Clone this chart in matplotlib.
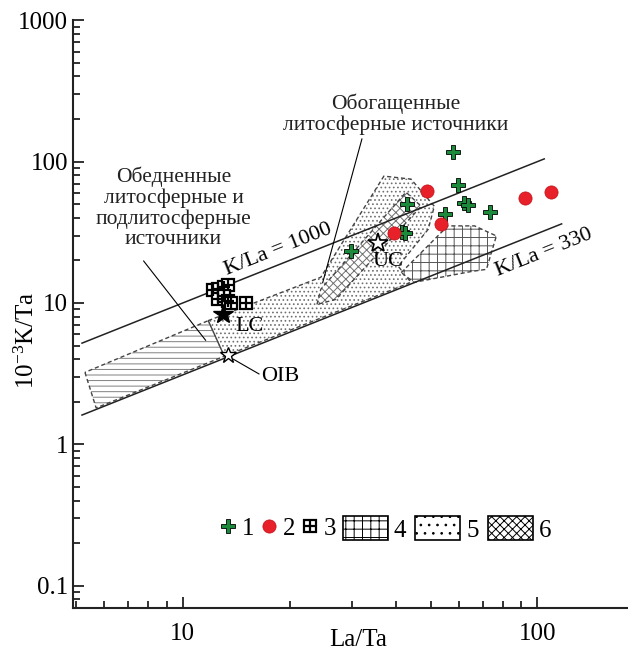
import matplotlib
matplotlib.use('Agg')
import matplotlib.pyplot as plt
from matplotlib.patches import Patch
from matplotlib.lines import Line2D
from matplotlib.legend_handler import HandlerTuple
import numpy as np

plt.rcParams['font.family'] = ['Liberation Serif', 'DejaVu Serif']
plt.rcParams['mathtext.fontset'] = 'custom'
plt.rcParams['mathtext.rm'] = 'Liberation Serif'
plt.rcParams['mathtext.it'] = 'Liberation Serif:italic'
plt.rcParams['hatch.linewidth'] = 0.7

# ---- data (La/Ta, 10^-3 K/Ta) ----
g1_la_ta = [57.8, 59.7, 43.0, 62.2, 63.6, 54.9, 73.3, 41.4, 42.4, 29.8]
g1_k_ta = [116, 68, 50.5, 51, 49, 42.5, 44, 31.8, 31.4, 23.5]
g2_la_ta = [48.9, 92.1, 109, 53.3, 39.3]
g2_k_ta = [61.5, 55.7, 61, 36, 31.1]
g3_la_ta = [12.2, 12.6, 13.1, 13.4, 12.6, 13.1, 13.4, 13.7, 15.1]
g3_k_ta = [12.3, 12.6, 13.0, 13.3, 10.7, 11.2, 10.3, 10.0, 10.0]

ref_names = ['LC', 'OIB', 'UC']
ref_la_ta = [13.0, 13.4, 35.6]
ref_k_ta = [8.4, 4.3, 26.4]

# reference lines: 10^-3 K/Ta = ratio * La/Ta
kla_high_ratio = 1.0
kla_high_x = [5.2, 104.5]
kla_low_ratio = 0.31
kla_low_x = [5.2, 117]

# fields
depleted_x = [5.3, 5.7, 13.1, 11.8]
depleted_y = [3.23, 1.81, 4.2, 7.5]
field5_x = [11.8, 24.5, 36.9, 44.0, 51.2, 49.2, 40.5, 44.0, 13.1]
field5_y = [7.5, 15.2, 78.9, 75.2, 48.3, 33.2, 18.2, 14.0, 4.2]
field6_x = [23.9, 24.5, 42.6, 47.0, 27.0]
field6_y = [9.76, 12.5, 60.8, 48.3, 10.6]
field4_x = [41.3, 55.9, 66.5, 76.6, 71.8, 65.1, 51.2, 44.9]
field4_y = [16.4, 35.1, 35.1, 29.8, 17.3, 16.7, 14.9, 14.0]

fig = plt.figure(figsize=(6.28, 6.52), dpi=100)
ax = fig.add_axes([0.116, 0.068, 0.884, 0.901])
ax.set_xscale('log')
ax.set_yscale('log')
ax.set_xlim(4.9, 180)
ax.set_ylim(0.07, 1000)

def field(xs, ys, hatch, hcol, z, face='none'):
    ax.fill(xs, ys, facecolor=face, edgecolor=hcol, hatch=hatch, linewidth=0, zorder=z)
    ax.fill(xs, ys, facecolor='none', edgecolor='#444444', linestyle=(0, (3, 2)),
            linewidth=1.0, zorder=z + 0.1)

field(depleted_x, depleted_y, '---', '#808080', 1)
field(field5_x, field5_y, '....', '#707070', 1.2)
field(field6_x, field6_y, 'xxxx', '#707070', 1.4, face='white')
field(field4_x, field4_y, '++', '#555555', 1.6, face='white')

# K/La lines
hx = np.array(kla_high_x)
lx = np.array(kla_low_x)
ax.plot(hx, kla_high_ratio * hx, color='#222222', lw=1.1, zorder=3)
ax.plot(lx, kla_low_ratio * lx, color='#222222', lw=1.1, zorder=3)
ang = 21.75
ax.text(18.6, 23.9, 'K/La = 1000', rotation=ang, fontsize=16, ha='center', va='center',
        rotation_mode='anchor', zorder=5)
ax.text(104, 22.8, 'K/La = 330', rotation=ang, fontsize=16, ha='center', va='center',
        rotation_mode='anchor', zorder=5)

# points
ax.plot(g1_la_ta, g1_k_ta, 'P', ms=10, mfc='#1b8a3a', mec='black', mew=0.6, ls='none', zorder=6)
ax.plot(g2_la_ta, g2_k_ta, 'o', ms=9.5, mfc='#e8202a', mec='#c01018', mew=0.5, ls='none', zorder=6)
ax.plot(g3_la_ta, g3_k_ta, 's', ms=8, mfc='white', mec='black', mew=1.6, ls='none', zorder=6)
ax.plot(g3_la_ta, g3_k_ta, '+', ms=8, color='black', mew=1.6, ls='none', zorder=6.1)

# reference compositions
ax.plot(ref_la_ta[0], ref_k_ta[0], '*', ms=15, mfc='black', mec='black', zorder=7)
ax.plot(ref_la_ta[1], ref_k_ta[1], '*', ms=12, mfc='white', mec='black', mew=1.0, zorder=7)
ax.plot(ref_la_ta[2], ref_k_ta[2], '*', ms=15, mfc='white', mec='black', mew=1.2, zorder=7)
ax.text(14.1, 6.8, ref_names[0], fontsize=16, ha='left', va='center', zorder=8)
ax.text(16.6, 3.0, ref_names[1], fontsize=16, ha='left', va='center', zorder=8)
ax.plot([13.9, 16.4], [4.0, 3.15], color='black', lw=0.8, zorder=8)
ax.text(37.9, 19.7, ref_names[2], fontsize=16, ha='center', va='center', zorder=8)

# annotations
ax.text(9.42, 47, 'Обедненные\nлитосферные и\nподлитосферные\nисточники', fontsize=15.5,
        ha='center', va='center', linespacing=1.1, color='#222222', zorder=8)
ax.plot([7.76, 11.6], [19.8, 5.45], color='black', lw=0.8, zorder=8)
ax.text(39.9, 215, 'Обогащенные\nлитосферные источники', fontsize=15.5,
        ha='center', va='center', linespacing=1.1, color='#222222', zorder=8)
ax.plot([32.0, 24.8], [144.6, 13.9], color='black', lw=0.8, zorder=8)

# axes styling
for s in ['top', 'right']:
    ax.spines[s].set_visible(False)
for s in ['left', 'bottom']:
    ax.spines[s].set_linewidth(1.5)
    ax.spines[s].set_color('#222222')
ax.tick_params(which='both', direction='in', width=1.3, color='#222222', labelsize=18)
ax.tick_params(which='major', length=8)
ax.tick_params(which='minor', length=5)
ax.set_xticks([10, 100])
ax.set_xticklabels(['10', '100'])
ax.set_yticks([0.1, 1, 10, 100, 1000])
ax.set_yticklabels(['0.1', '1', '10', '100', '1000'])
ax.xaxis.set_minor_formatter(matplotlib.ticker.NullFormatter())
ax.yaxis.set_minor_formatter(matplotlib.ticker.NullFormatter())
ax.tick_params(axis='x', pad=11)

fig.text(0.043, 0.478, '$10^{-3}$K/Ta', rotation=90, fontsize=18, ha='center', va='center')
fig.text(0.57, 0.018, 'La/Ta', fontsize=18, ha='center', va='center')

# legends
h1 = Line2D([], [], marker='P', ms=10, mfc='#1b8a3a', mec='black', mew=0.6, ls='none')
h2 = Line2D([], [], marker='o', ms=9.5, mfc='#e8202a', mec='#c01018', mew=0.5, ls='none')
h3a = Line2D([], [], marker='s', ms=8, mfc='white', mec='black', mew=1.6, ls='none')
h3b = Line2D([], [], marker='+', ms=8, color='black', mew=1.6, ls='none')
leg1 = ax.legend([h1, h2, (h3a, h3b)], ['1', '2', '3'], ncol=3, loc='center',
                 bbox_to_anchor=(0.37, 0.134), frameon=False, fontsize=18,
                 handlelength=0.6, handletextpad=0.25, columnspacing=0.3,
                 handler_map={tuple: HandlerTuple(ndivide=1, pad=0)})
ax.add_artist(leg1)
p4 = Patch(facecolor='white', edgecolor='black', hatch='++', lw=1.2)
p5 = Patch(facecolor='white', edgecolor='black', hatch='..', lw=1.2)
p6 = Patch(facecolor='white', edgecolor='black', hatch='xxxx', lw=1.2)
ax.legend([p4, p5, p6], ['4', '5', '6'], ncol=3, loc='center',
          bbox_to_anchor=(0.674, 0.134), frameon=False, fontsize=18,
          handlelength=1.8, handleheight=1.1, handletextpad=0.25, columnspacing=0.35)

fig.savefig('out.png', dpi=100)
